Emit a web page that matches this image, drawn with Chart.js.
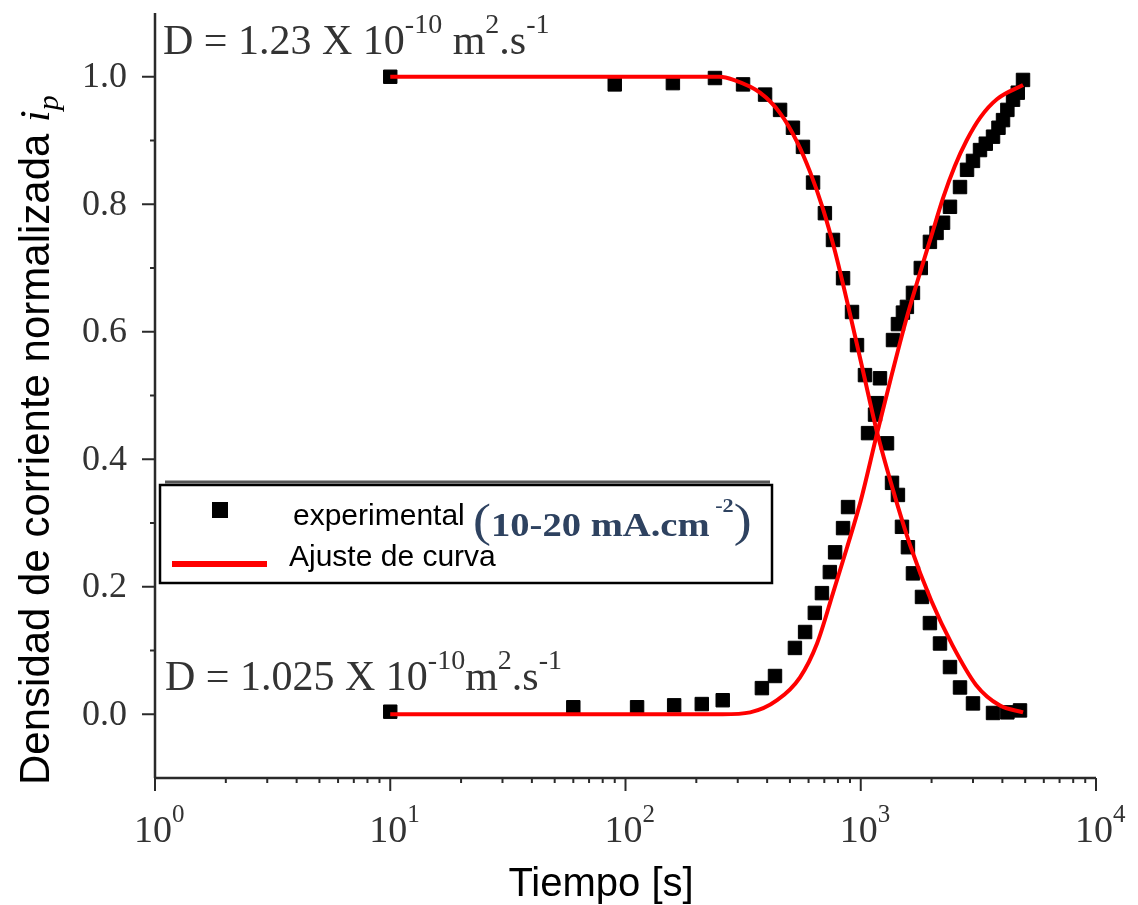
<!DOCTYPE html>
<html>
<head>
<meta charset="utf-8">
<script src="https://cdn.jsdelivr.net/npm/chart.js@4/dist/chart.umd.min.js"></script>
<style>
    body { margin: 0; background: #fff; }
    #grafico { display: block; }
</style>
</head>
<body>
<canvas id="grafico" width="1138" height="905"></canvas>
<script>
    // Datos experimentales: corriente decreciente (tiempo en s, ip normalizada)
    var tiempoDesc = [10, 90, 159, 240, 316, 392, 454, 515, 568, 627, 704, 762, 841, 918, 964, 1042, 1173, 1293, 1358, 1439, 1497, 1587, 1667, 1821, 1968, 2172, 2395, 2642, 3000, 3650, 4200, 4753];
    var ipDesc = [1.0, 0.988, 0.99, 0.998, 0.988, 0.972, 0.948, 0.92, 0.89, 0.834, 0.786, 0.744, 0.684, 0.631, 0.579, 0.532, 0.488, 0.425, 0.363, 0.344, 0.294, 0.262, 0.221, 0.184, 0.143, 0.111, 0.074, 0.042, 0.017, 0.002, 0.003, 0.006];

    // Datos experimentales: corriente creciente
    var tiempoAsc = [10, 60, 112, 161, 211, 259, 380, 432, 525, 580, 638, 684, 739, 778, 841, 883, 1074, 1150, 1207, 1371, 1439, 1511, 1571, 1667, 1800, 1968, 2100, 2238, 2395, 2642, 2830, 3000, 3213, 3400, 3650, 3850, 4025, 4200, 4440, 4650, 4895];
    var ipAsc = [0.004, 0.011, 0.011, 0.014, 0.016, 0.022, 0.041, 0.06, 0.104, 0.129, 0.159, 0.19, 0.223, 0.254, 0.292, 0.325, 0.441, 0.47, 0.527, 0.587, 0.612, 0.63, 0.639, 0.661, 0.70, 0.741, 0.755, 0.771, 0.796, 0.827, 0.854, 0.868, 0.885, 0.895, 0.906, 0.92, 0.932, 0.948, 0.964, 0.975, 0.995];

    // Curvas de ajuste
    var tiempoAjDesc = [10, 251, 288, 373, 454, 536, 610, 692, 776, 891, 1023, 1172, 1371, 1622, 1995, 2455, 3090, 3890, 4898];
    var ipAjDesc = [1, 1, 0.995, 0.975, 0.943, 0.898, 0.85, 0.792, 0.727, 0.635, 0.538, 0.443, 0.352, 0.265, 0.178, 0.108, 0.046, 0.014, 0.003];
    var tiempoAjAsc = [10, 259, 339, 441, 552, 652, 762, 875, 1000, 1172, 1349, 1549, 1738, 1995, 2239, 2512, 2818, 3236, 3802, 4898];
    var ipAjAsc = [0, 0, 0.003, 0.022, 0.058, 0.111, 0.19, 0.262, 0.335, 0.44, 0.53, 0.615, 0.678, 0.75, 0.81, 0.86, 0.90, 0.937, 0.965, 0.987];

    // Etiquetas de los ejes
    var decadas = [0, 1, 2, 3, 4];
    var ticksY = ['0.0', '0.2', '0.4', '0.6', '0.8', '1.0'];

    var SERIF = "'Liberation Serif', 'Times New Roman', serif";
    var SANS = "'Liberation Sans', Arial, sans-serif";
    var COLOR_EJE = '#2a2a2a';

    function puntos(xs, ys) {
        return xs.map(function (x, i) { return { x: x, y: ys[i] }; });
    }

    // escribe trozos de texto seguidos (superindices, subindices, cursivas)
    function textoMixto(ctx, x, y, trozos) {
        var cx = x;
        trozos.forEach(function (t) {
            ctx.font = (t.estilo || 'normal') + ' ' + t.tam + 'px ' + t.fam;
            if (t.color) ctx.fillStyle = t.color;
            ctx.fillText(t.txt, cx, y + (t.dy || 0));
            cx += ctx.measureText(t.txt).width;
        });
        return cx;
    }

    var ejes = {
        id: 'ejes',
        afterDraw: function (chart) {
            var ctx = chart.ctx;
            var sx = chart.scales.x, sy = chart.scales.y;
            var izq = sx.left, der = sx.right, arriba = sy.top, abajo = sy.bottom;
            ctx.save();
            ctx.strokeStyle = COLOR_EJE;
            ctx.lineWidth = 2.5;
            ctx.lineCap = 'butt';

            // lineas de los ejes
            ctx.beginPath();
            ctx.moveTo(izq, arriba);
            ctx.lineTo(izq, abajo);
            ctx.moveTo(izq, abajo);
            ctx.lineTo(der, abajo);
            ctx.stroke();

            // ticks eje x (log)
            ctx.lineWidth = 2;
            decadas.forEach(function (d) {
                var p = sx.getPixelForValue(Math.pow(10, d));
                ctx.beginPath();
                ctx.moveTo(p, abajo);
                ctx.lineTo(p, abajo + 13);
                ctx.stroke();
                if (d < 4) {
                    for (var m = 2; m <= 9; m++) {
                        var pm = sx.getPixelForValue(m * Math.pow(10, d));
                        ctx.beginPath();
                        ctx.moveTo(pm, abajo);
                        ctx.lineTo(pm, abajo + 5);
                        ctx.stroke();
                    }
                }
            });

            // ticks eje y
            for (var k = 0; k <= 10; k++) {
                var py = sy.getPixelForValue(k / 10);
                var largo = (k % 2 === 0) ? 13 : 5;
                ctx.beginPath();
                ctx.moveTo(izq, py);
                ctx.lineTo(izq - largo, py);
                ctx.stroke();
            }

            // etiquetas eje y
            ctx.fillStyle = '#333';
            ctx.font = '36px ' + SERIF;
            ctx.textAlign = 'right';
            ctx.textBaseline = 'middle';
            ticksY.forEach(function (t) {
                ctx.fillText(t, izq - 28, sy.getPixelForValue(parseFloat(t)) + 1);
            });

            // etiquetas eje x: 10 con exponente
            ctx.textAlign = 'left';
            ctx.textBaseline = 'alphabetic';
            decadas.forEach(function (d) {
                var p = sx.getPixelForValue(Math.pow(10, d));
                ctx.font = '38px ' + SERIF;
                var w = ctx.measureText('10').width;
                textoMixto(ctx, p - w / 2 - 2, 842, [
                    { txt: '10', tam: 38, fam: SERIF, color: '#333' },
                    { txt: String(d), tam: 25, fam: SERIF, dy: -20 }
                ]);
            });

            // titulo eje x
            ctx.fillStyle = '#000';
            ctx.font = '40px ' + SANS;
            ctx.textAlign = 'center';
            ctx.fillText('Tiempo [s]', 601, 896);

            // titulo eje y (rotado)
            ctx.save();
            ctx.translate(49, 785);
            ctx.rotate(-Math.PI / 2);
            ctx.textAlign = 'left';
            textoMixto(ctx, 0, 0, [
                { txt: 'Densidad de corriente normalizada ', tam: 42, fam: SANS, color: '#000' },
                { txt: 'i', tam: 42, fam: SERIF, estilo: 'italic' },
                { txt: 'p', tam: 30, fam: SERIF, estilo: 'italic', dy: 9 }
            ]);
            ctx.restore();

            // coeficientes de difusion
            ctx.textAlign = 'left';
            textoMixto(ctx, 163, 54, [
                { txt: 'D = 1.23 X 10', tam: 42, fam: SERIF, color: '#333' },
                { txt: '-10', tam: 28, fam: SERIF, dy: -21 },
                { txt: ' m', tam: 42, fam: SERIF },
                { txt: '2', tam: 28, fam: SERIF, dy: -21 },
                { txt: '.s', tam: 42, fam: SERIF },
                { txt: '-1', tam: 28, fam: SERIF, dy: -21 }
            ]);
            textoMixto(ctx, 165, 690, [
                { txt: 'D = 1.025 X 10', tam: 42, fam: SERIF, color: '#333' },
                { txt: '-10', tam: 28, fam: SERIF, dy: -21 },
                { txt: 'm', tam: 42, fam: SERIF },
                { txt: '2', tam: 28, fam: SERIF, dy: -21 },
                { txt: '.s', tam: 42, fam: SERIF },
                { txt: '-1', tam: 28, fam: SERIF, dy: -21 }
            ]);

            // leyenda
            ctx.fillStyle = '#fff';
            ctx.fillRect(160, 485, 612, 98);
            ctx.strokeStyle = '#555';
            ctx.lineWidth = 3;
            ctx.beginPath();
            ctx.moveTo(165, 482);
            ctx.lineTo(770, 482);
            ctx.stroke();
            ctx.strokeStyle = '#000';
            ctx.lineWidth = 2.5;
            ctx.strokeRect(160, 485, 612, 98);

            ctx.fillStyle = '#000';
            ctx.fillRect(212, 502, 16, 16);
            textoMixto(ctx, 293, 525, [
                { txt: 'experimental', tam: 30, fam: SANS, color: '#000' }
            ]);
            ctx.save();
            ctx.translate(473, 536);
            ctx.scale(1.17, 1);
            textoMixto(ctx, 0, 0, [
                { txt: '(', tam: 46, fam: SERIF, color: '#2e4260' },
                { txt: '10-20 mA.cm', tam: 33, fam: SERIF, estilo: 'bold' },
                { txt: ' -2', tam: 19, fam: SERIF, estilo: 'bold', dy: -24 },
                { txt: ')', tam: 46, fam: SERIF }
            ]);
            ctx.restore();

            ctx.strokeStyle = '#ff0000';
            ctx.lineWidth = 6;
            ctx.beginPath();
            ctx.moveTo(172, 564);
            ctx.lineTo(267, 564);
            ctx.stroke();
            textoMixto(ctx, 289, 566, [
                { txt: 'Ajuste de curva', tam: 30, fam: SANS, color: '#000' }
            ]);

            ctx.restore();
        }
    };

    var lienzo = document.getElementById('grafico').getContext('2d');
    var grafico = new Chart(lienzo, {
        type: 'scatter',
        data: {
            datasets: [{
                label: 'Ajuste de curva',
                data: puntos(tiempoAjDesc, ipAjDesc),
                showLine: true,
                borderColor: '#ff0000',
                borderWidth: 4,
                pointRadius: 0,
                cubicInterpolationMode: 'monotone',
                order: 0
            }, {
                label: 'Ajuste de curva',
                data: puntos(tiempoAjAsc, ipAjAsc),
                showLine: true,
                borderColor: '#ff0000',
                borderWidth: 4,
                pointRadius: 0,
                cubicInterpolationMode: 'monotone',
                order: 0
            }, {
                label: 'experimental',
                data: puntos(tiempoDesc, ipDesc),
                pointStyle: 'rect',
                pointRadius: 9.5,
                pointBorderWidth: 1,
                pointBackgroundColor: '#000',
                pointBorderColor: '#000',
                order: 1
            }, {
                label: 'experimental',
                data: puntos(tiempoAsc, ipAsc),
                pointStyle: 'rect',
                pointRadius: 9.5,
                pointBorderWidth: 1,
                pointBackgroundColor: '#000',
                pointBorderColor: '#000',
                order: 1
            }]
        },
        options: {
            responsive: false,
            devicePixelRatio: 1,
            animation: false,
            layout: { padding: { left: 155, right: 42, top: 13, bottom: 127 } },
            scales: {
                x: { type: 'logarithmic', min: 1, max: 10000, display: false },
                y: { type: 'linear', min: -0.1, max: 1.1, display: false }
            },
            plugins: {
                legend: { display: false },
                tooltip: { enabled: false }
            }
        },
        plugins: [ejes]
    });
</script>
</body>
</html>
